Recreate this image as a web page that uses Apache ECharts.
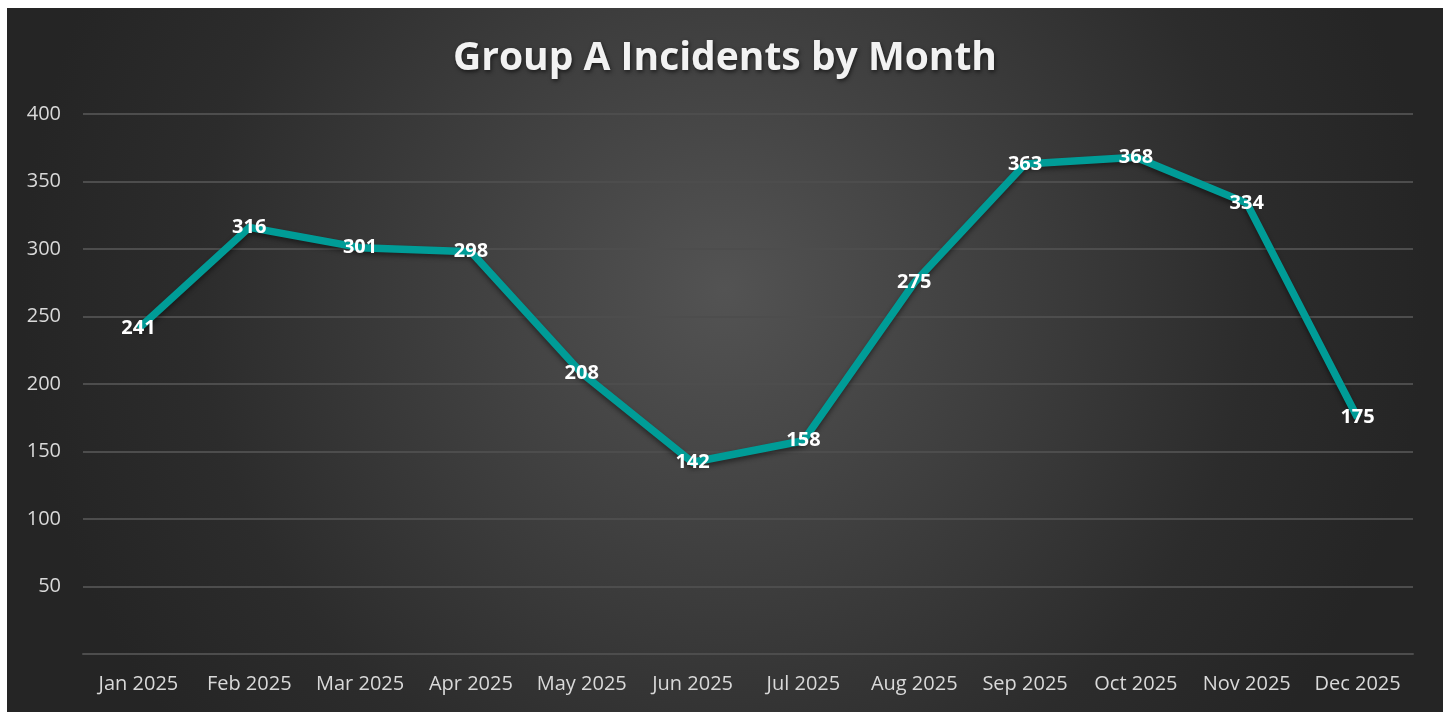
<!DOCTYPE html>
<html><head><meta charset="utf-8">
<script src="https://cdn.jsdelivr.net/npm/echarts@6/dist/echarts.min.js"></script>
<style>
html,body{margin:0;padding:0;background:#fff;width:1448px;height:712px;overflow:hidden}
#c{position:absolute;left:7px;top:8px;width:1436px;height:704px}
</style></head>
<body><div id="c"></div>
<script>
const categories = ['Jan 2025','Feb 2025','Mar 2025','Apr 2025','May 2025','Jun 2025','Jul 2025','Aug 2025','Sep 2025','Oct 2025','Nov 2025','Dec 2025'];
const incidents = [241,316,301,298,208,142,158,275,363,368,334,175];
const titleText = 'Group A Incidents by Month';

const chart = echarts.init(document.getElementById('c'));
chart.setOption({
  backgroundColor: {
    type: 'radial', x: 0.5, y: 0.4, r: 1.0,
    colorStops: [{offset: 0, color: '#535353'}, {offset: 0.75, color: '#2c2c2c'}, {offset: 1, color: '#252525'}]
  },
  title: {
    text: titleText, left: 'center', top: 26,
    textStyle: {
      color: '#f2f2f2', fontSize: 39, fontWeight: 'bold',
      fontFamily: 'Open Sans',
      textShadowColor: 'rgba(0,0,0,0.6)', textShadowBlur: 4, textShadowOffsetX: 1, textShadowOffsetY: 2
    }
  },
  grid: {left: 76, right: 30, top: 106, bottom: 58},
  xAxis: {
    type: 'category', data: categories, boundaryGap: true,
    axisLine: {show: true, lineStyle: {color: '#4d4d4d', width: 2}},
    axisTick: {show: false},
    axisLabel: {color: '#d9d9d9', fontSize: 20, fontFamily: 'Open Sans', margin: 20, interval: 0}
  },
  yAxis: {
    type: 'value', min: 0, max: 400, interval: 50,
    axisLine: {show: false}, axisTick: {show: false},
    splitLine: {lineStyle: {color: '#4d4d4d', width: 2}},
    axisLabel: {color: '#d9d9d9', fontSize: 20, fontFamily: 'Open Sans', margin: 22,
      formatter: v => v === 0 ? '' : String(v)}
  },
  series: [{
    type: 'line', data: incidents, symbol: 'circle', showSymbol: true, symbolSize: 1,
    lineStyle: {color: '#009C97', width: 7.5, shadowColor: 'rgba(0,0,0,0.45)', shadowBlur: 5, shadowOffsetY: 3, join: 'round'},
    itemStyle: {color: 'rgba(0,0,0,0)', borderWidth: 0},
    label: {show: true, position: 'inside', offset: [0, 2], color: '#ffffff', fontSize: 20, fontWeight: 'bold', fontFamily: 'Open Sans'},
    labelLayout: {hideOverlap: false},
    animation: false
  }],
  animation: false
});
</script></body></html>
